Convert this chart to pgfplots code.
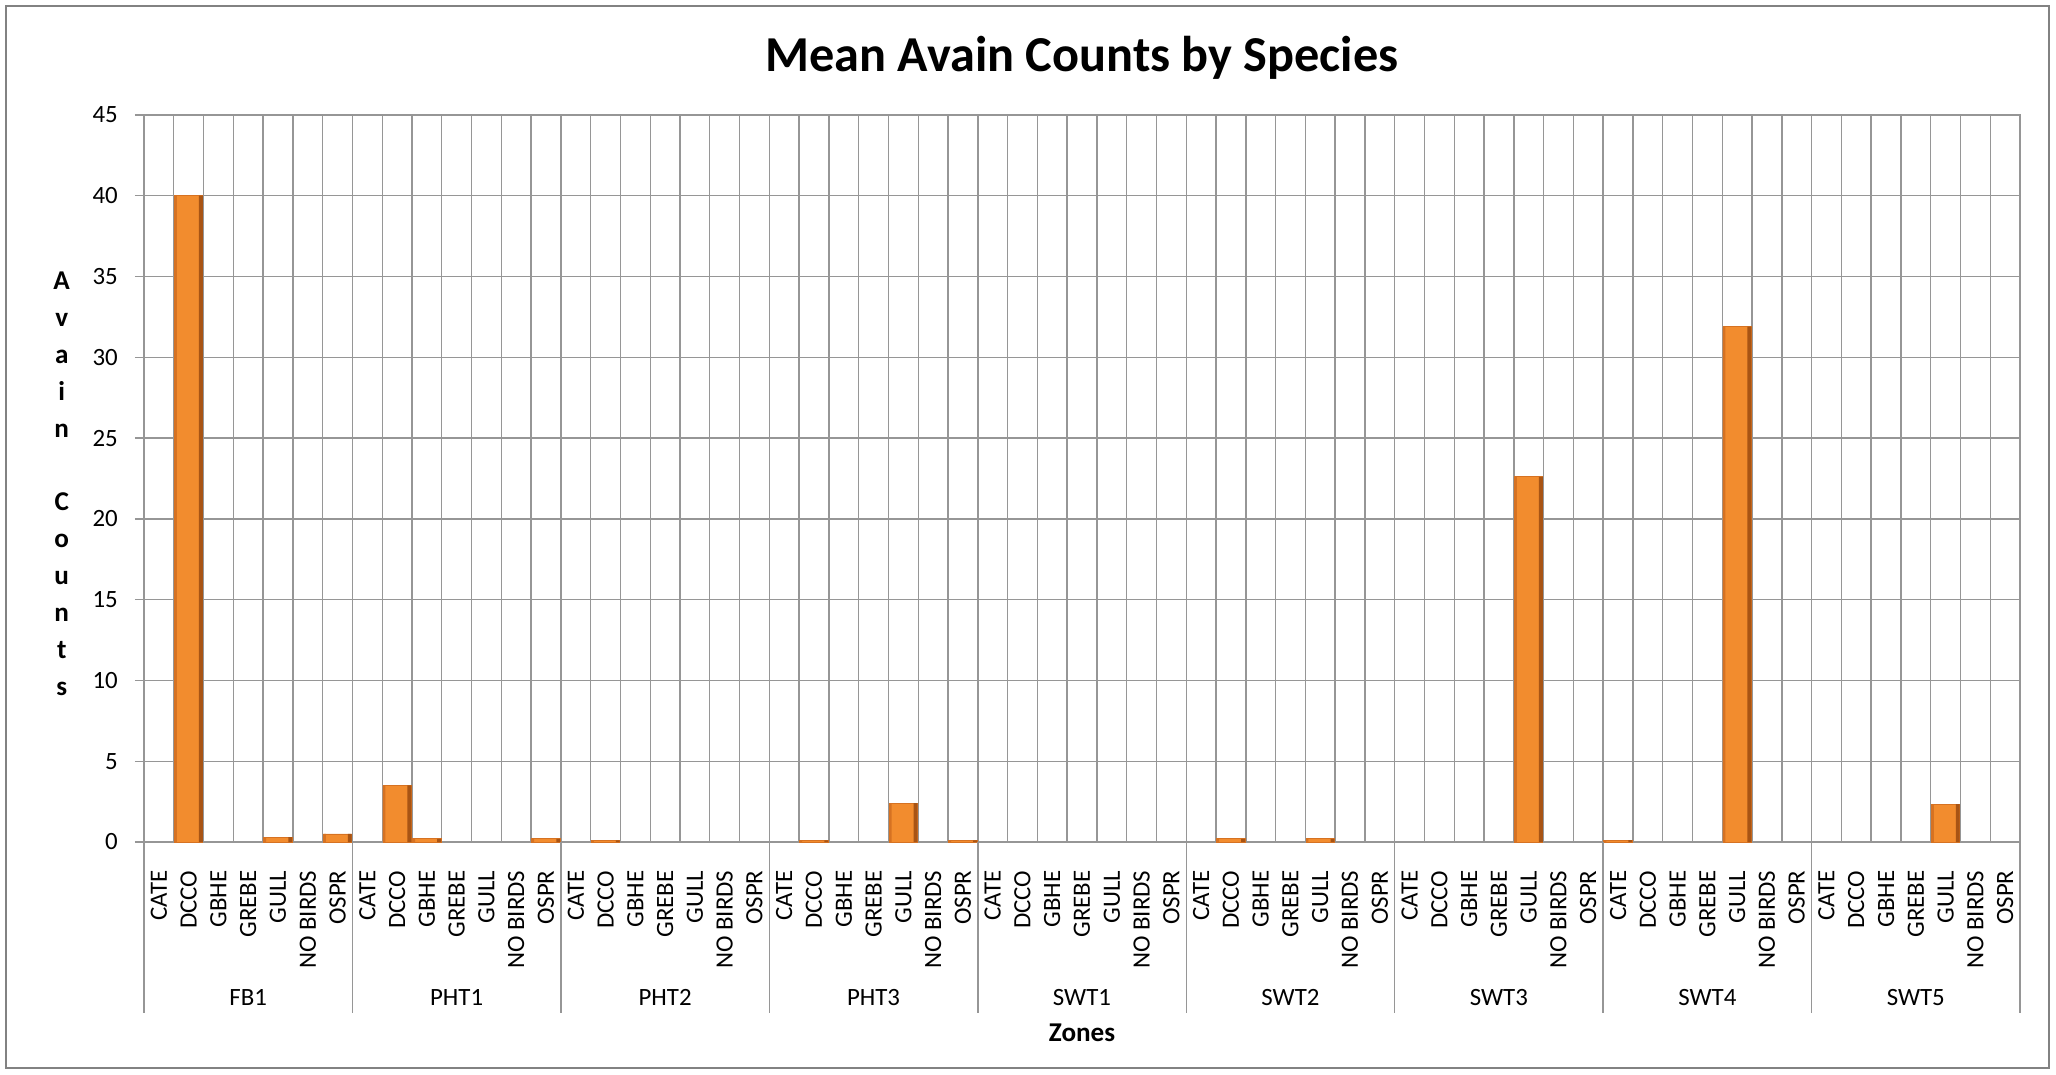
\documentclass[border=0pt]{standalone}
\usepackage{fontspec}
\setmainfont{Carlito}
\usepackage{pgfplots}
\pgfplotsset{compat=1.18}
\usepackage{pgfplotstable}
\definecolor{gridgray}{RGB}{150,150,150}
\definecolor{framegray}{RGB}{130,130,130}
\definecolor{barL}{RGB}{214,114,34}
\definecolor{barM}{RGB}{242,140,46}
\definecolor{barR}{RGB}{168,84,20}
\definecolor{barT}{RGB}{250,182,92}

\pgfplotstableread{
x y
0 0
1 40
2 0
3 0
4 0.3
5 0
6 0.5
7 0
8 3.5
9 0.2
10 0
11 0
12 0
13 0.2
14 0
15 0.1
16 0
17 0
18 0
19 0
20 0
21 0
22 0.1
23 0
24 0
25 2.4
26 0
27 0.1
28 0
29 0
30 0
31 0
32 0
33 0
34 0
35 0
36 0.2
37 0
38 0
39 0.2
40 0
41 0
42 0
43 0
44 0
45 0
46 22.6
47 0
48 0
49 0.12
50 0
51 0
52 0
53 31.9
54 0
55 0
56 0
57 0
58 0
59 0
60 2.35
61 0
62 0
}\counts

\begin{document}
\begin{tikzpicture}
\useasboundingbox (0,0) rectangle (719.6pt,375.9pt);
\draw[framegray, line width=0.7pt] (2.1pt,2.1pt) rectangle (717.2pt,373.8pt);
\begin{axis}[
  at={(50.4pt,81.2pt)}, anchor=south west,
  width=656.6pt, height=254.5pt, scale only axis,
  clip=false,
  xmin=-0.5, xmax=62.5, ymin=0, ymax=45,
  ytick={0,5,...,45},
  xtick={0,...,62},
  xticklabels={CATE,DCCO,GBHE,GREBE,GULL,NO BIRDS,OSPR,
               CATE,DCCO,GBHE,GREBE,GULL,NO BIRDS,OSPR,
               CATE,DCCO,GBHE,GREBE,GULL,NO BIRDS,OSPR,
               CATE,DCCO,GBHE,GREBE,GULL,NO BIRDS,OSPR,
               CATE,DCCO,GBHE,GREBE,GULL,NO BIRDS,OSPR,
               CATE,DCCO,GBHE,GREBE,GULL,NO BIRDS,OSPR,
               CATE,DCCO,GBHE,GREBE,GULL,NO BIRDS,OSPR,
               CATE,DCCO,GBHE,GREBE,GULL,NO BIRDS,OSPR,
               CATE,DCCO,GBHE,GREBE,GULL,NO BIRDS,OSPR},
  minor xtick={-0.5,0.5,...,62.5},
  xminorgrids=true, xmajorgrids=false, ymajorgrids=true,
  grid style={gridgray, line width=0.5pt},
  minor grid style={gridgray, line width=0.5pt},
  axis line style={gridgray, line width=0.5pt},
  every major x tick/.append style={draw=none},
  every minor x tick/.append style={draw=none},
  every major y tick/.append style={gridgray, line width=0.5pt},
  tick align=outside, major tick length=3.2pt,
  ytick pos=left, xtick pos=bottom,
  /pgf/number format/assume math mode=true,
  ticklabel style={font=\fontsize{8.7}{10.4}\selectfont, text=black},
  yticklabel style={inner sep=0pt, xshift=-5.8pt},
  xticklabel style={rotate=90, anchor=east, inner sep=0pt},
  xticklabel shift=6.6pt,
  title={Mean Avain Counts by Species},
  title style={at={(axis description cs:0.5,1)}, anchor=center, yshift=14pt,
               font=\bfseries\fontsize{17.6}{20}\selectfont},
  ylabel={A\\v\\a\\i\\n\\[12.9pt]C\\o\\u\\n\\t\\s},
  ylabel style={rotate=-90, align=center, at={(axis description cs:0,0.5)},
                anchor=center, xshift=-28.8pt, yshift=-1.85pt,
                font=\bfseries\fontsize{9.5}{12.9}\selectfont},
  xlabel={Zones},
  xlabel style={at={(axis description cs:0.5,0)}, anchor=center, yshift=-66.9pt,
                font=\bfseries\fontsize{9.5}{11}\selectfont},
  y filter/.expression={y==0 ? nan : y}, unbounded coords=discard,
]
% main bar body
\addplot[ybar, bar width=0.95, bar shift=0, draw=barL, line width=0.3pt, fill=barM]
  table[x=x, y=y] {\counts};
% left shaded edge
\addplot[ybar, bar width=0.08, bar shift=-0.435, draw=none, fill=barL]
  table[x=x, y=y] {\counts};
% right dark edge
\addplot[ybar, bar width=0.13, bar shift=0.41, draw=none, fill=barR]
  table[x=x, y=y] {\counts};
\pgfplotsinvokeforeach{-0.5,6.5,13.5,20.5,27.5,34.5,41.5,48.5,55.5,62.5}{
  \draw[gridgray, line width=0.5pt] (axis cs:#1,0) -- ++(0pt,-59.9pt);
}
\node[font=\fontsize{8.7}{10.4}\selectfont] at ([yshift=-54.3pt]axis cs:3,0) {FB1};
\node[font=\fontsize{8.7}{10.4}\selectfont] at ([yshift=-54.3pt]axis cs:10,0) {PHT1};
\node[font=\fontsize{8.7}{10.4}\selectfont] at ([yshift=-54.3pt]axis cs:17,0) {PHT2};
\node[font=\fontsize{8.7}{10.4}\selectfont] at ([yshift=-54.3pt]axis cs:24,0) {PHT3};
\node[font=\fontsize{8.7}{10.4}\selectfont] at ([yshift=-54.3pt]axis cs:31,0) {SWT1};
\node[font=\fontsize{8.7}{10.4}\selectfont] at ([yshift=-54.3pt]axis cs:38,0) {SWT2};
\node[font=\fontsize{8.7}{10.4}\selectfont] at ([yshift=-54.3pt]axis cs:45,0) {SWT3};
\node[font=\fontsize{8.7}{10.4}\selectfont] at ([yshift=-54.3pt]axis cs:52,0) {SWT4};
\node[font=\fontsize{8.7}{10.4}\selectfont] at ([yshift=-54.3pt]axis cs:59,0) {SWT5};
\end{axis}
\end{tikzpicture}
\end{document}
